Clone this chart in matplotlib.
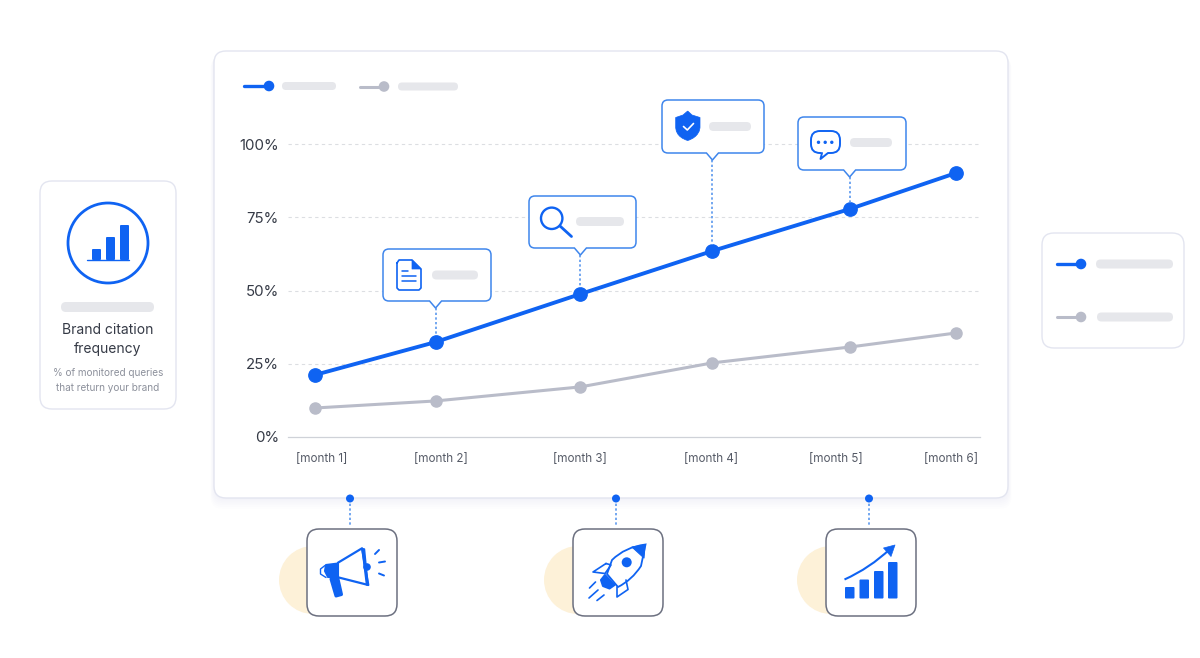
import matplotlib
matplotlib.use('Agg')
import matplotlib.pyplot as plt
from matplotlib.patches import FancyBboxPatch, Circle, Polygon, PathPatch
from matplotlib.path import Path

plt.rcParams['font.family'] = ['Inter', 'DejaVu Sans']

# Values
month_labels = ['[month 1]', '[month 2]', '[month 3]', '[month 4]', '[month 5]', '[month 6]']
label_pos = [1.05, 1.98, 3.07, 4.09, 5.06, 5.96]
month_pos = [1.0, 1.94, 3.07, 4.10, 5.17, 6.0]
brand_vals = [21.2, 32.4, 48.8, 63.5, 77.8, 90.1]
other_vals = [9.9, 12.3, 17.1, 25.3, 30.7, 35.5]
y_ticks = [0, 25, 50, 75, 100]

BLUE = '#0f63f2'
CALL = '#3f86ec'
GRAY = '#b9bcc9'
BAR = '#e6e7eb'
CARD = '#e3e5f0'
INK = '#353a46'

W, H = 1200, 658
fig = plt.figure(figsize=(12, 6.58), dpi=100, facecolor='white')

# Pixel space layers: under the chart for cards, over it for callouts and icons
under = fig.add_axes([0, 0, 1, 1], zorder=0)
over = fig.add_axes([0, 0, 1, 1], zorder=2)
for a in (under, over):
    a.set_xlim(0, W)
    a.set_ylim(H, 0)
    a.axis('off')
    a.patch.set_alpha(0)

ax = fig.add_axes([288 / W, 1 - 437 / H, 692 / W, 293 / H], zorder=1)
ax.patch.set_alpha(0)


def rbox(a, x0, y0, x1, y1, r, fc='white', ec='none', lw=1.0, alpha=None, z=2):
    p = FancyBboxPatch((x0, y0), x1 - x0, y1 - y0, boxstyle=f'round,pad=0,rounding_size={r}',
                       fc=fc, ec=ec, lw=lw, alpha=alpha, zorder=z)
    a.add_patch(p)


def seg(a, pts, lw=1.5, color=BLUE, z=5):
    a.plot([p[0] for p in pts], [p[1] for p in pts], color=color, lw=lw,
           solid_capstyle='round', solid_joinstyle='round', zorder=z)


def fill(a, pts, color=BLUE, z=5, lw=1.5):
    a.add_patch(Polygon(pts, closed=True, fc=color, ec=color, lw=lw, joinstyle='round', zorder=z))


# Main card with a soft shadow
for i in range(7):
    rbox(under, 214 - i * 0.6, 51 + i, 1008 + i * 0.6, 498 + i * 1.8, 12, fc='#5a6a9a', alpha=0.007, z=1)
rbox(under, 214, 51, 1008, 498, 12, ec=CARD, lw=1.0)

# Chart
ax.set_xlim(0.789, 6.187)
ax.set_ylim(0, 100)
ax.plot(month_pos, other_vals, color=GRAY, lw=2.2, marker='o', ms=8, clip_on=False, zorder=3)
ax.plot(month_pos, brand_vals, color=BLUE, lw=2.8, marker='o', ms=9.6, clip_on=False, zorder=4)
ax.set_yticks(y_ticks)
ax.set_yticklabels([f'{v}%' for v in y_ticks], fontsize=10.8, color=INK)
ax.set_xticks(label_pos)
ax.set_xticklabels(month_labels, fontsize=8.4, color='#555a66')
ax.tick_params(axis='both', length=0)
ax.tick_params(axis='y', pad=6.5)
ax.tick_params(axis='x', pad=11.5)
for s in ('top', 'right', 'left'):
    ax.spines[s].set_visible(False)
ax.spines['bottom'].set_color('#cfd2d8')
ax.spines['bottom'].set_linewidth(0.9)
for v in y_ticks[1:]:
    ax.axhline(v, color='#dcdee2', lw=0.8, ls=(0, (3, 3)), zorder=1, clip_on=False)


def to_px(x, y):
    return over.transData.inverted().transform(ax.transData.transform((x, y)))


def callout(i, x0, y0, x1, y1, bar0, bar1, bar_y):
    px, py = to_px(month_pos[i], brand_vals[i])
    tip = y1 + 7
    r = 6
    verts = [(x0 + r, y0), (x1 - r, y0), (x1, y0), (x1, y0 + r), (x1, y1 - r), (x1, y1), (x1 - r, y1),
             (px + 6, y1), (px, tip), (px - 6, y1), (x0 + r, y1), (x0, y1), (x0, y1 - r),
             (x0, y0 + r), (x0, y0), (x0 + r, y0), (x0 + r, y0)]
    codes = [Path.MOVETO, Path.LINETO, Path.CURVE3, Path.CURVE3, Path.LINETO, Path.CURVE3, Path.CURVE3,
             Path.LINETO, Path.LINETO, Path.LINETO, Path.LINETO, Path.CURVE3, Path.CURVE3,
             Path.LINETO, Path.CURVE3, Path.CURVE3, Path.CLOSEPOLY]
    over.add_patch(PathPatch(Path(verts, codes), fc='white', ec=CALL, lw=1.1, zorder=3))
    over.plot([px, px], [tip, py - 6], color='#5b98ee', lw=1.2, ls=(0, (1.4, 1.4)), zorder=2)
    rbox(over, bar0, bar_y - 4.5, bar1, bar_y + 4.5, 4.5, fc=BAR, z=4)


callout(1, 383, 249, 491, 301, 432, 478, 275)
callout(2, 529, 196, 636, 248, 576, 624, 221.5)
callout(3, 662, 100, 764, 153, 709, 751, 126.5)
callout(4, 798, 117, 906, 170, 850, 892, 142.5)

# Document icon
doc = [(397, 263), (399, 260), (412, 260), (421, 269), (421, 288), (419, 290), (399, 290), (397, 288), (397, 263)]
seg(over, doc, lw=1.2)
fill(over, [(412, 260), (421, 269), (412, 269)], lw=0.5)
seg(over, [(402, 271), (407.5, 271)], lw=1.1)
seg(over, [(402, 276), (415.5, 276)], lw=1.1)
seg(over, [(402, 281), (415.5, 281)], lw=1.1)

# Magnifier icon
over.add_patch(Circle((551.7, 218.3), 10.7, fc='none', ec=BLUE, lw=1.7, zorder=5))
seg(over, [(560, 226), (571.5, 236.5)], lw=2.0)

# Shield icon
shield_v = [(687.7, 111), (692, 115), (700, 117.5), (700, 127), (700, 129), (699, 137), (687.7, 140.5),
            (676, 137), (675.7, 129), (675.7, 127), (675.7, 117.5), (683, 115), (687.7, 111)]
shield_c = [Path.MOVETO, Path.LINETO, Path.LINETO, Path.LINETO, Path.CURVE4, Path.CURVE4, Path.CURVE4,
            Path.CURVE4, Path.CURVE4, Path.CURVE4, Path.LINETO, Path.LINETO, Path.LINETO]
over.add_patch(PathPatch(Path(shield_v, shield_c), fc=BLUE, ec=BLUE, lw=0.5, zorder=5))
seg(over, [(683.5, 126.5), (687.3, 130), (693.5, 123.5)], lw=1.2, color='white', z=6)

# Chat icon
rbox(over, 811, 131, 840, 153, 9, fc='white', ec=BLUE, lw=1.4, z=5)
fill(over, [(822, 152), (820.5, 158.5), (828, 152)], color='white', z=6, lw=0.5)
seg(over, [(822, 153), (820.5, 159), (828, 153)], lw=1.4, z=6)
for dx in (818.5, 825.2, 831.8):
    over.add_patch(Circle((dx, 142.3), 1.7, fc=BLUE, ec='none', zorder=6))

# Legends
def legend_key(a, x0, x1, y, color, bar0, bar1, h=8):
    seg(a, [(x0, y), (x1, y)], lw=2.4 if color == BLUE else 2.2, color=color, z=3)
    a.add_patch(Circle((x1, y), 5.3, fc=color, ec='none', zorder=4))
    rbox(a, bar0, y - h / 2, bar1, y + h / 2, h / 2, fc=BAR, z=3)


legend_key(over, 244, 269, 86, BLUE, 282, 336)
legend_key(over, 360, 384, 86.5, GRAY, 398, 458)

rbox(under, 1042, 233, 1184, 348, 12, ec=CARD, lw=1.0)
legend_key(over, 1057, 1081, 264, BLUE, 1096, 1173, h=9)
legend_key(over, 1057, 1081, 317, GRAY, 1097, 1173, h=9)

# Left card
rbox(under, 40, 181, 176, 409, 12, ec=CARD, lw=1.0)
over.add_patch(Circle((108, 243), 40, fc='none', ec=BLUE, lw=2.0, zorder=5))
for bx, top in zip((92, 106, 120), (249, 237, 225)):
    rbox(over, bx, top, bx + 9, 260, 1, fc=BLUE, z=5)
seg(over, [(86.5, 260), (129, 260)], lw=1.0)
rbox(over, 61, 302, 154, 312, 5, fc=BAR, z=3)
over.text(108, 330.5, 'Brand citation', ha='center', va='center', fontsize=10.0, color=INK)
over.text(108, 348.5, 'frequency', ha='center', va='center', fontsize=10.0, color=INK)
over.text(108, 372.5, '% of monitored queries', ha='center', va='center', fontsize=7.2, color='#8d919c')
over.text(108, 388, 'that return your brand', ha='center', va='center', fontsize=7.2, color='#8d919c')

# Bottom boxes
for bx, cx, dotx in zip((307, 573, 826), (313, 578, 831), (350, 616, 869)):
    under.add_patch(Circle((cx, 580), 34, fc='#fdf1d8', ec='none', zorder=1))
    rbox(over, bx, 529, bx + 90, 616, 12, fc='white', ec='#6c7080', lw=1.1, z=3)
    over.plot([dotx, dotx], [499, 527], color='#5b98ee', lw=1.2, ls=(0, (1.4, 1.4)), zorder=2)
    over.add_patch(Circle((dotx, 498.5), 4, fc=BLUE, ec='none', zorder=4))

# Megaphone icon
seg(over, [(338, 562.7), (362, 548.3), (368.3, 585), (338, 577.3)], lw=1.6)
fill(over, [(326, 565), (338, 563.5), (338, 577), (328, 577), (325, 571)])
seg(over, [(325, 565.5), (320.5, 569), (320.5, 574), (326, 577.5)], lw=1.0)
fill(over, [(331, 579), (338, 579), (341.5, 594.5), (336, 596)], lw=2.2)
fill(over, [(362, 548.5), (364.5, 549), (368, 585), (366.5, 585)], lw=1.0)
over.add_patch(Circle((367, 567), 3.8, fc=BLUE, ec='none', zorder=5))
seg(over, [(375, 554), (379, 550)], lw=1.4)
seg(over, [(379, 562.5), (385, 561.5)], lw=1.4)
seg(over, [(379, 573.5), (384, 575.5)], lw=1.4)

# Rocket icon
nose = [(645.5, 544.5), (625, 547), (612, 560), (607, 574), (618, 587), (632, 580), (641, 566), (645.5, 544.5)]
nose_c = [Path.MOVETO, Path.CURVE3, Path.CURVE3, Path.LINETO, Path.LINETO, Path.CURVE3, Path.CURVE3, Path.CLOSEPOLY]
over.add_patch(PathPatch(Path(nose, nose_c), fc='white', ec=BLUE, lw=1.3, zorder=5))
fill(over, [(632, 547), (645, 545), (644, 558)], z=6, lw=0.8)
over.add_patch(Circle((626.7, 562.3), 5, fc=BLUE, ec='none', zorder=6))
fill(over, [(605, 575), (614.5, 585), (609.5, 588.5), (603, 586), (601, 580)], z=6)
seg(over, [(606, 563.5), (593, 572), (605, 573.5), (611, 565), (606, 563.5)], lw=1.2)
seg(over, [(617, 587), (617, 597), (628, 589.5), (626, 580)], lw=1.2)
seg(over, [(589.5, 588), (595.5, 582)], lw=1.2)
seg(over, [(589, 598), (598, 590)], lw=1.2)
seg(over, [(597, 600.5), (604, 595)], lw=1.2)

# Growth icon
for bx, top in zip((845, 859.5, 874, 888), (587, 579.5, 571, 562)):
    rbox(over, bx, top, bx + 9.5, 598.5, 1, fc=BLUE, z=5)
arrow = Path([(844.5, 579.5), (870, 568), (890, 549)], [Path.MOVETO, Path.CURVE3, Path.CURVE3])
over.add_patch(PathPatch(arrow, fc='none', ec=BLUE, lw=1.5, zorder=5))
fill(over, [(895, 545), (883.5, 548), (891, 556.5)], lw=0.5)

fig.savefig('out.png', dpi=100, facecolor='white')
